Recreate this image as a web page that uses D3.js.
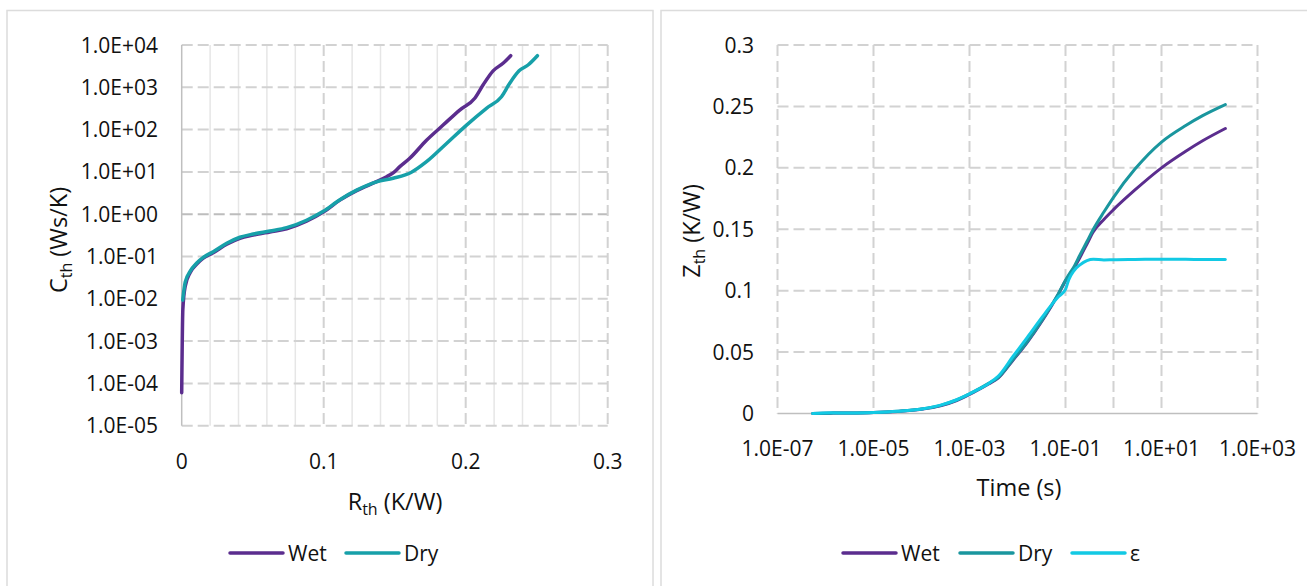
<!DOCTYPE html>
<html><head><meta charset="utf-8">
<script src="https://cdn.jsdelivr.net/npm/d3@7"></script>
<style>html,body{margin:0;padding:0;background:#fff}svg{display:block}text{font-family:"Open Sans","Noto Sans",sans-serif;fill:#111}</style>
</head><body>
<svg id="c" width="1307" height="586"></svg>
<script>
// ---- Left chart data (structure function) ----
const leftWetR = [0, 0.0008, 0.0025, 0.006, 0.0106, 0.0152, 0.0222, 0.0317, 0.041, 0.0504, 0.0621, 0.0739, 0.0879, 0.0997, 0.1114, 0.1232, 0.1372, 0.1443, 0.1489, 0.1536, 0.1606, 0.1724, 0.1841, 0.1958, 0.2064, 0.2122, 0.2193, 0.2263, 0.2317];
const leftWetC = [6e-5, 5.5e-3, 0.02, 0.042, 0.066, 0.091, 0.123, 0.195, 0.27, 0.32, 0.38, 0.45, 0.68, 1.12, 2.15, 3.6, 5.9, 7.7, 9.5, 13.3, 21, 56, 128, 290, 550, 1130, 2450, 3690, 5580];
const leftDryR = [0.0007, 0.0025, 0.006, 0.0106, 0.0152, 0.0222, 0.0317, 0.041, 0.0504, 0.0621, 0.0739, 0.0879, 0.0997, 0.1114, 0.1232, 0.1372, 0.1489, 0.1615, 0.1724, 0.1865, 0.2006, 0.2146, 0.2252, 0.231, 0.2376, 0.2439, 0.2505];
const leftDryC = [0.0093, 0.025, 0.045, 0.07, 0.095, 0.13, 0.205, 0.285, 0.34, 0.40, 0.48, 0.72, 1.17, 2.2, 3.7, 5.8, 7.1, 9.7, 17.4, 47, 128, 319, 600, 1245, 2450, 3370, 5580];
const leftXTicks = [0, 0.1, 0.2, 0.3];
const leftXTickLabels = ["0", "0.1", "0.2", "0.3"];
const leftYTicks = [1e-5, 1e-4, 1e-3, 1e-2, 1e-1, 1e0, 1e1, 1e2, 1e3, 1e4];
const leftYTickLabels = ["1.0E-05", "1.0E-04", "1.0E-03", "1.0E-02", "1.0E-01", "1.0E+00", "1.0E+01", "1.0E+02", "1.0E+03", "1.0E+04"];
const leftSeries = ["Wet", "Dry"];

// ---- Right chart data (Zth curves) ----
const timeS = [5.4e-7, 1.26e-6, 3.2e-6, 1e-5, 3.2e-5, 1e-4, 2.5e-4, 5.4e-4, 1.26e-3, 2.5e-3, 4.0e-3, 7.9e-3, 1.6e-2, 3.2e-2, 5.0e-2, 7.1e-2, 0.1, 0.117, 0.148, 0.2, 0.28, 0.38, 0.63, 1, 2.8, 10, 32, 72, 214];
const zthWet = [0, 0.0003, 0.0004, 0.0008, 0.0017, 0.0034, 0.0062, 0.0105, 0.0175, 0.024, 0.029, 0.043, 0.058, 0.075, 0.087, 0.097, 0.108, 0.112, 0.118, 0.127, 0.138, 0.148, 0.158, 0.166, 0.182, 0.200, 0.2135, 0.222, 0.232];
const zthDry = [0, 0.0003, 0.0004, 0.0008, 0.0018, 0.0036, 0.0066, 0.011, 0.018, 0.0245, 0.0295, 0.0435, 0.0585, 0.0755, 0.0875, 0.0975, 0.1085, 0.113, 0.119, 0.129, 0.140, 0.150, 0.164, 0.176, 0.199, 0.221, 0.2345, 0.2425, 0.2515];
const zthEps = [0, 0.0006, 0.0004, 0.0008, 0.0018, 0.0036, 0.0068, 0.0112, 0.018, 0.0245, 0.0305, 0.046, 0.062, 0.078, 0.088, 0.095, 0.101, 0.109, 0.116, 0.121, 0.1245, 0.1256, 0.1250, 0.1252, 0.1254, 0.1256, 0.1255, 0.1254, 0.1253];
const rightXTicks = [1e-7, 1e-5, 1e-3, 1e-1, 1e1, 1e3];
const rightXTickLabels = ["1.0E-07", "1.0E-05", "1.0E-03", "1.0E-01", "1.0E+01", "1.0E+03"];
const rightYTicks = [0, 0.05, 0.1, 0.15, 0.2, 0.25, 0.3];
const rightYTickLabels = ["0", "0.05", "0.1", "0.15", "0.2", "0.25", "0.3"];
const rightSeries = ["Wet", "Dry", "ε"];

const svg = d3.select("#c");
const GRID = "#d2d2d2", MINOR = "#e6e6e6", AXIS = "#bfbfbf";
const cWet = "#5b2d8e", cDryL = "#17a0a9", cDryR = "#1a969e", cEps = "#12c9e4";
const FS = 21, FT = 23.5;

// panel borders
svg.append("rect").attr("x", 7).attr("y", 10.5).attr("width", 646).attr("height", 600).attr("fill", "none").attr("stroke", "#dcdcdc").attr("stroke-width", 1.5);
svg.append("rect").attr("x", 661).attr("y", 10.5).attr("width", 660).attr("height", 600).attr("fill", "none").attr("stroke", "#dcdcdc").attr("stroke-width", 1.5);

// ===== Left chart =====
const xL = d3.scaleLinear().domain([0, 0.3]).range([181.7, 607.7]);
const yL = d3.scaleLog().domain([1e-5, 1e4]).range([425.7, 45]);
const gL = svg.append("g");
const minorL = d3.range(1, 15).map(i => i * 0.02).filter(v => Math.abs(v * 10 - Math.round(v * 10)) > 1e-6);
gL.selectAll(".mv").data(minorL).join("line").attr("x1", d => xL(d)).attr("x2", d => xL(d)).attr("y1", yL(1e4)).attr("y2", yL(1e-5)).attr("stroke", MINOR).attr("stroke-width", 1.5);
gL.selectAll(".mh").data(leftYTicks).join("line").attr("x1", xL(0)).attr("x2", xL(0.3)).attr("y1", d => yL(d)).attr("y2", d => yL(d)).attr("stroke", d => d === 1 ? "#bdbdbd" : GRID).attr("stroke-width", 2).attr("stroke-dasharray", "11,5");
gL.selectAll(".vv").data([0.1, 0.2, 0.3]).join("line").attr("x1", d => xL(d)).attr("x2", d => xL(d)).attr("y1", yL(1e4)).attr("y2", yL(1e-5)).attr("stroke", GRID).attr("stroke-width", 2).attr("stroke-dasharray", "11,5");
gL.append("line").attr("x1", xL(0)).attr("x2", xL(0)).attr("y1", yL(1e4)).attr("y2", yL(1e-5)).attr("stroke", AXIS).attr("stroke-width", 1.5);
gL.selectAll(".yt").data(leftYTicks).join("text").attr("x", 158).attr("y", d => yL(d)).attr("dy", "0.36em").attr("text-anchor", "end").attr("font-size", FS).text((d, i) => leftYTickLabels[i]);
gL.selectAll(".xt").data(leftXTicks).join("text").attr("x", d => xL(d)).attr("y", 461).attr("dy", "0.36em").attr("text-anchor", "middle").attr("font-size", FS).text((d, i) => leftXTickLabels[i]);
const tR = gL.append("text").attr("x", 395).attr("y", 502).attr("dy", "0.36em").attr("text-anchor", "middle").attr("font-size", FT);
tR.append("tspan").text("R");
tR.append("tspan").attr("font-size", 16).attr("dy", 5).text("th");
tR.append("tspan").attr("dy", -5).text(" (K/W)");
const tC = gL.append("text").attr("transform", "translate(59,240) rotate(-90)").attr("dy", "0.36em").attr("text-anchor", "middle").attr("font-size", FT);
tC.append("tspan").text("C");
tC.append("tspan").attr("font-size", 16).attr("dy", 5).text("th");
tC.append("tspan").attr("dy", -5).text(" (Ws/K)");
const lineL = d3.line().x(d => xL(d[0])).y(d => yL(d[1])).curve(d3.curveMonotoneX);
gL.append("path").datum(leftWetR.map((r, i) => [r, leftWetC[i]])).attr("d", lineL).attr("fill", "none").attr("stroke", cWet).attr("stroke-width", 3.5).attr("stroke-linejoin", "round").attr("stroke-linecap", "round");
gL.append("path").datum(leftDryR.map((r, i) => [r, leftDryC[i]])).attr("d", lineL).attr("fill", "none").attr("stroke", cDryL).attr("stroke-width", 3.5).attr("stroke-linejoin", "round").attr("stroke-linecap", "round");
const legL = [{ x: 230, c: cWet }, { x: 346, c: cDryL }];
legL.forEach((l, i) => {
  gL.append("line").attr("x1", l.x).attr("x2", l.x + 53).attr("y1", 553).attr("y2", 553).attr("stroke", l.c).attr("stroke-width", 3.5).attr("stroke-linecap", "round");
  gL.append("text").attr("x", l.x + 58).attr("y", 553).attr("dy", "0.36em").attr("font-size", FS).text(leftSeries[i]);
});

// ===== Right chart =====
const xR = d3.scaleLog().domain([1e-7, 1e3]).range([777.5, 1257.5]);
const yR = d3.scaleLinear().domain([0, 0.3]).range([413.5, 45]);
const gR = svg.append("g");
gR.selectAll(".rh").data(rightYTicks.slice(1)).join("line").attr("x1", xR(1e-7)).attr("x2", xR(1e3)).attr("y1", d => yR(d)).attr("y2", d => yR(d)).attr("stroke", GRID).attr("stroke-width", 2).attr("stroke-dasharray", "11,5");
gR.selectAll(".rv").data(rightXTicks.concat([1])).join("line").attr("x1", d => xR(d)).attr("x2", d => xR(d)).attr("y1", yR(0.3)).attr("y2", yR(0)).attr("stroke", GRID).attr("stroke-width", 2).attr("stroke-dasharray", "11,5");
gR.append("line").attr("x1", xR(1e-7)).attr("x2", xR(1e3)).attr("y1", yR(0)).attr("y2", yR(0)).attr("stroke", AXIS).attr("stroke-width", 1.5);
gR.selectAll(".yt").data(rightYTicks).join("text").attr("x", 754).attr("y", d => yR(d)).attr("dy", "0.36em").attr("text-anchor", "end").attr("font-size", FS).text((d, i) => rightYTickLabels[i]);
gR.selectAll(".xt").data(rightXTicks).join("text").attr("x", d => xR(d)).attr("y", 448).attr("dy", "0.36em").attr("text-anchor", "middle").attr("font-size", FS).text((d, i) => rightXTickLabels[i]);
gR.append("text").attr("x", 1019).attr("y", 488).attr("dy", "0.36em").attr("text-anchor", "middle").attr("font-size", FT).text("Time (s)");
const tZ = gR.append("text").attr("transform", "translate(692,231) rotate(-90)").attr("dy", "0.36em").attr("text-anchor", "middle").attr("font-size", FT);
tZ.append("tspan").text("Z");
tZ.append("tspan").attr("font-size", 16).attr("dy", 5).text("th");
tZ.append("tspan").attr("dy", -5).text(" (K/W)");
const lineR = d3.line().x(d => xR(d[0])).y(d => yR(d[1])).curve(d3.curveMonotoneX);
[[zthWet, cWet], [zthDry, cDryR], [zthEps, cEps]].forEach(([z, c]) => {
  gR.append("path").datum(timeS.map((t, i) => [t, z[i]])).attr("d", lineR).attr("fill", "none").attr("stroke", c).attr("stroke-width", 3).attr("stroke-linejoin", "round").attr("stroke-linecap", "round");
});
const legR = [{ x: 843, c: cWet }, { x: 960, c: cDryR }, { x: 1072, c: cEps }];
legR.forEach((l, i) => {
  gR.append("line").attr("x1", l.x).attr("x2", l.x + 53).attr("y1", 553).attr("y2", 553).attr("stroke", l.c).attr("stroke-width", 3.5).attr("stroke-linecap", "round");
  gR.append("text").attr("x", l.x + 58).attr("y", 553).attr("dy", "0.36em").attr("font-size", FS).text(rightSeries[i]);
});
</script>
</body></html>
